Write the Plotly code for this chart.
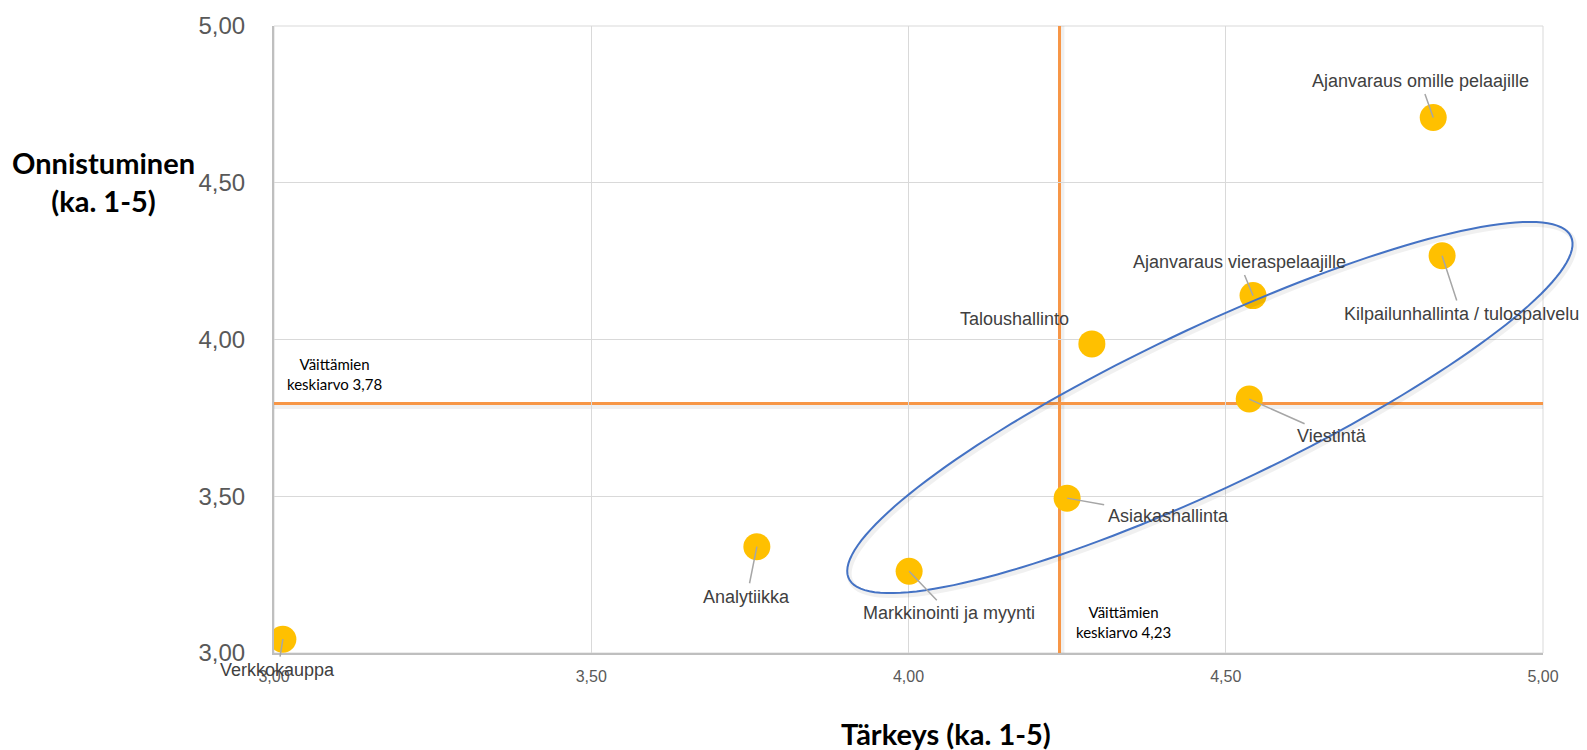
import numpy as np
import plotly.graph_objects as go

# ---- data ----
categories = [
    "Verkkokauppa", "Analytiikka", "Markkinointi ja myynti", "Asiakashallinta",
    "Taloushallinto", "Viestintä", "Ajanvaraus vieraspelaajille",
    "Kilpailunhallinta / tulospalvelu", "Ajanvaraus omille pelaajille",
]
importance = [3.014, 3.761, 4.001, 4.250, 4.289, 4.537, 4.543, 4.841, 4.827]
success = [3.044, 3.339, 3.261, 3.494, 3.986, 3.810, 4.140, 4.267, 4.708]

avg_importance = 4.238
avg_success = 3.796
avg_importance_label = "Väittämien<br>keskiarvo 4,23"
avg_success_label = "Väittämien<br>keskiarvo 3,78"

x_ticks = [3.0, 3.5, 4.0, 4.5, 5.0]
y_ticks = [3.0, 3.5, 4.0, 4.5, 5.0]
x_range = [3.0, 5.0]
y_range = [3.0, 5.0]

x_title = "Tärkeys (ka. 1-5)"
y_title = "Onnistuminen<br>(ka. 1-5)"

# label offsets in pixels (ax, ay, show leader line)
label_offsets = {
    "Verkkokauppa": (-5, 31, True),
    "Analytiikka": (-10, 50, True),
    "Markkinointi ja myynti": (40, 42, True),
    "Asiakashallinta": (101, 18, True),
    "Taloushallinto": (-77, -25, False),
    "Viestintä": (83, 37, True),
    "Ajanvaraus vieraspelaajille": (-14, -34, True),
    "Kilpailunhallinta / tulospalvelu": (19, 58, True),
    "Ajanvaraus omille pelaajille": (-13, -37, True),
}

# highlight ellipse (data units): centre, semi-major vector, semi-minor vector
ell_center = (4.475, 3.783)
ell_major = (0.569, 0.546)
ell_minor = (-0.0543, 0.2288)


def to_paper(xv, yv):
    px = (xv - x_range[0]) / (x_range[1] - x_range[0])
    py = (yv - y_range[0]) / (y_range[1] - y_range[0])
    return px, py


def ellipse_path(c, M, m, dx=0.0, dy=0.0, n=160):
    t = np.linspace(0, 2 * np.pi, n)
    xs = c[0] + np.cos(t) * M[0] + np.sin(t) * m[0] + dx
    ys = c[1] + np.cos(t) * M[1] + np.sin(t) * m[1] + dy
    px, py = to_paper(xs, ys)
    pts = [f"{x:.5f},{y:.5f}" for x, y in zip(px, py)]
    return "M " + " L ".join(pts) + " Z"


fig = go.Figure()
fig.add_trace(go.Scatter(
    x=importance, y=success, mode="markers",
    marker=dict(color="#FFC000", size=27, line=dict(width=0)),
    hoverinfo="text", text=categories, showlegend=False,
))

shapes = []
# plot border (light)
shapes.append(dict(type="rect", xref="paper", yref="paper", x0=0, x1=1, y0=0, y1=1,
                   line=dict(color="#D9D9D9", width=1), layer="below"))
# soft shadows of average lines
shapes.append(dict(type="line", xref="x", yref="y", x0=avg_importance + 0.003, x1=avg_importance + 0.003,
                   y0=3.0, y1=5.0, line=dict(color="rgba(0,0,0,0.06)", width=6), layer="below"))
shapes.append(dict(type="line", xref="x", yref="y", x0=3.0, x1=5.0,
                   y0=avg_success - 0.008, y1=avg_success - 0.008,
                   line=dict(color="rgba(0,0,0,0.06)", width=6), layer="below"))
# average lines
shapes.append(dict(type="line", xref="x", yref="y", x0=avg_importance, x1=avg_importance,
                   y0=3.0, y1=5.0, line=dict(color="#F79646", width=3), layer="below"))
shapes.append(dict(type="line", xref="x", yref="y", x0=3.0, x1=5.0,
                   y0=avg_success, y1=avg_success, line=dict(color="#F79646", width=3), layer="below"))
# ellipse shadow + ellipse (paper refs so it is not clipped at the plot edge)
shapes.append(dict(type="path", xref="paper", yref="paper",
                   path=ellipse_path(ell_center, ell_major, ell_minor, dx=0.003, dy=-0.008),
                   line=dict(color="rgba(0,0,0,0.06)", width=5), layer="above"))
shapes.append(dict(type="path", xref="paper", yref="paper",
                   path=ellipse_path(ell_center, ell_major, ell_minor),
                   line=dict(color="#4472C4", width=2), layer="above"))

annotations = []
label_font = dict(family="Liberation Sans, Arial, sans-serif", size=18, color="#404040")
for name, xv, yv in zip(categories, importance, success):
    ax, ay, arrow = label_offsets[name]
    if arrow:
        annotations.append(dict(
            x=xv, y=yv, xref="x", yref="y", text=name, showarrow=True,
            ax=ax, ay=ay, axref="pixel", ayref="pixel",
            arrowhead=0, arrowwidth=1.5, arrowcolor="#A6A6A6", standoff=0,
            startstandoff=2, font=label_font, xanchor="center", yanchor="middle",
        ))
    else:
        annotations.append(dict(
            x=xv, y=yv, xref="x", yref="y", text=name, showarrow=False,
            xshift=ax, yshift=-ay, font=label_font, xanchor="center", yanchor="middle",
        ))

avg_font = dict(family="Lato, Carlito, sans-serif", size=15, color="#000000")
annotations.append(dict(x=3.0, y=avg_success, xref="x", yref="y", text=avg_success_label,
                        showarrow=False, xanchor="left", yanchor="middle", align="center",
                        xshift=11, yshift=29, font=avg_font))
annotations.append(dict(x=avg_importance, y=3.0, xref="x", yref="y", text=avg_importance_label,
                        showarrow=False, xanchor="left", yanchor="middle", align="center",
                        xshift=14, yshift=31, font=avg_font))

title_font = dict(family="Lato, Carlito, sans-serif", size=29, color="#000000")
annotations.append(dict(x=0, y=0.752, xref="paper", yref="paper",
                        text="<b>" + y_title.replace("<br>", "</b><br><b>") + "</b>",
                        showarrow=False, xanchor="center", yanchor="middle", align="center",
                        xshift=-171, font=title_font))
annotations.append(dict(x=0.5296, y=0, xref="paper", yref="paper", text="<b>" + x_title + "</b>",
                        showarrow=False, xanchor="center", yanchor="middle",
                        yshift=-80, font=title_font))

fig.update_layout(
    width=1587, height=750,
    margin=dict(l=274, r=44, t=22, b=97),
    plot_bgcolor="white", paper_bgcolor="white",
    separators=", ",
    shapes=shapes, annotations=annotations,
    xaxis=dict(range=x_range, tickvals=x_ticks, tickformat=".2f",
               showgrid=True, gridcolor="#D9D9D9", gridwidth=1,
               showline=True, linecolor="#BFBFBF", linewidth=2, zeroline=False,
               ticks="", ticklabelstandoff=8,
               tickfont=dict(family="Liberation Sans, Arial, sans-serif", size=16, color="#595959")),
    yaxis=dict(range=y_range, tickvals=y_ticks, tickformat=".2f",
               showgrid=True, gridcolor="#D9D9D9", gridwidth=1,
               showline=True, linecolor="#BFBFBF", linewidth=2, zeroline=False,
               ticks="", ticklabelstandoff=22,
               tickfont=dict(family="Liberation Sans, Arial, sans-serif", size=24, color="#595959")),
)

# remove the default page margin so the 1587x750 figure fills the window exactly
fig.write_html(
    "out.html",
    config={"displayModeBar": False},
    post_script="document.body.style.margin='0';document.body.style.overflow='hidden';",
)
